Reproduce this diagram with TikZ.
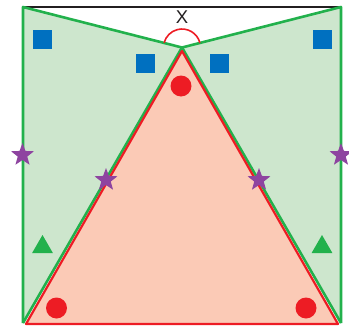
\documentclass[tikz,border=0pt]{standalone}
\usepackage{fontspec}
\setmainfont{Liberation Sans}
\usetikzlibrary{shapes.geometric}
\definecolor{gline}{RGB}{34,177,76}
\definecolor{gfill}{RGB}{205,230,205}
\definecolor{rline}{RGB}{237,28,36}
\definecolor{rfill}{RGB}{251,202,182}
\definecolor{bsq}{RGB}{0,112,192}
\definecolor{pstar}{RGB}{142,68,160}
\definecolor{txt}{RGB}{35,31,32}
\tikzset{
  sq/.style={draw=none,fill=bsq,minimum size=19pt,inner sep=0pt},
  dot/.style={circle,draw=none,fill=rline,minimum size=21pt,inner sep=0pt},
  tri/.style={regular polygon,regular polygon sides=3,draw=none,fill=gline,minimum size=24pt,inner sep=0pt},
  starshape/.style={star,star points=5,star point ratio=2.4,draw=none,fill=pstar,minimum size=24pt,inner sep=0pt},
  gl/.style={draw=gline,line width=2.6pt,line join=round},
  rl/.style={draw=rline,line width=2.2pt,line join=round},
}
\begin{document}
\begin{tikzpicture}[x=1pt,y=-1pt]
\useasboundingbox (0,0) rectangle (349,327);
% corners
\coordinate (TL) at (23,7);
\coordinate (TR) at (341,7);
\coordinate (BL) at (23,323);
\coordinate (BR) at (341,323);
\coordinate (A) at (182,47.5);
\coordinate (RA) at (182,51);
\coordinate (RL) at (26,324);
\coordinate (RR) at (338,324);
% fills
\fill[gfill] (TL) -- (A) -- (BL) -- cycle;
\fill[gfill] (TR) -- (A) -- (BR) -- cycle;
\fill[rfill] (A) -- (RL) -- (RR) -- cycle;
% lines
\draw[txt,line width=2.2pt] (TL) -- (TR);
\draw[gl] (BL) -- (TL) -- (A) -- (TR) -- (BR);
\draw[gl] (BL) -- (A) -- (BR);
\draw[rl] (RA) -- (RL) -- (RR) -- cycle;
% angle arc
\draw[rline,line width=1.6pt] ([shift={(-14.5:18.5)}]A) arc[start angle=-14.5,end angle=-165.5,radius=18.5];
\node[txt,font=\fontsize{18.5}{18.5}\selectfont] (x) at (182,17.5) {X};
% squares
\node[sq] (s1) at (42.5,39.5) {};
\node[sq] (s2) at (145,63.5) {};
\node[sq] (s3) at (219.5,63.5) {};
\node[sq] (s4) at (322,39.5) {};
% circles
\node[dot] (c1) at (181,86) {};
\node[dot] (c2) at (56.5,308) {};
\node[dot] (c3) at (306,308) {};
% triangles
\node[tri] (t1) at (42.5,247) {};
\node[tri] (t2) at (322,247) {};
% stars
\node[starshape] (st1) at (22.5,155) {};
\node[starshape] (st2) at (106,180) {};
\node[starshape] (st3) at (259,180) {};
\node[starshape] (st4) at (341,155) {};
\end{tikzpicture}
\end{document}
